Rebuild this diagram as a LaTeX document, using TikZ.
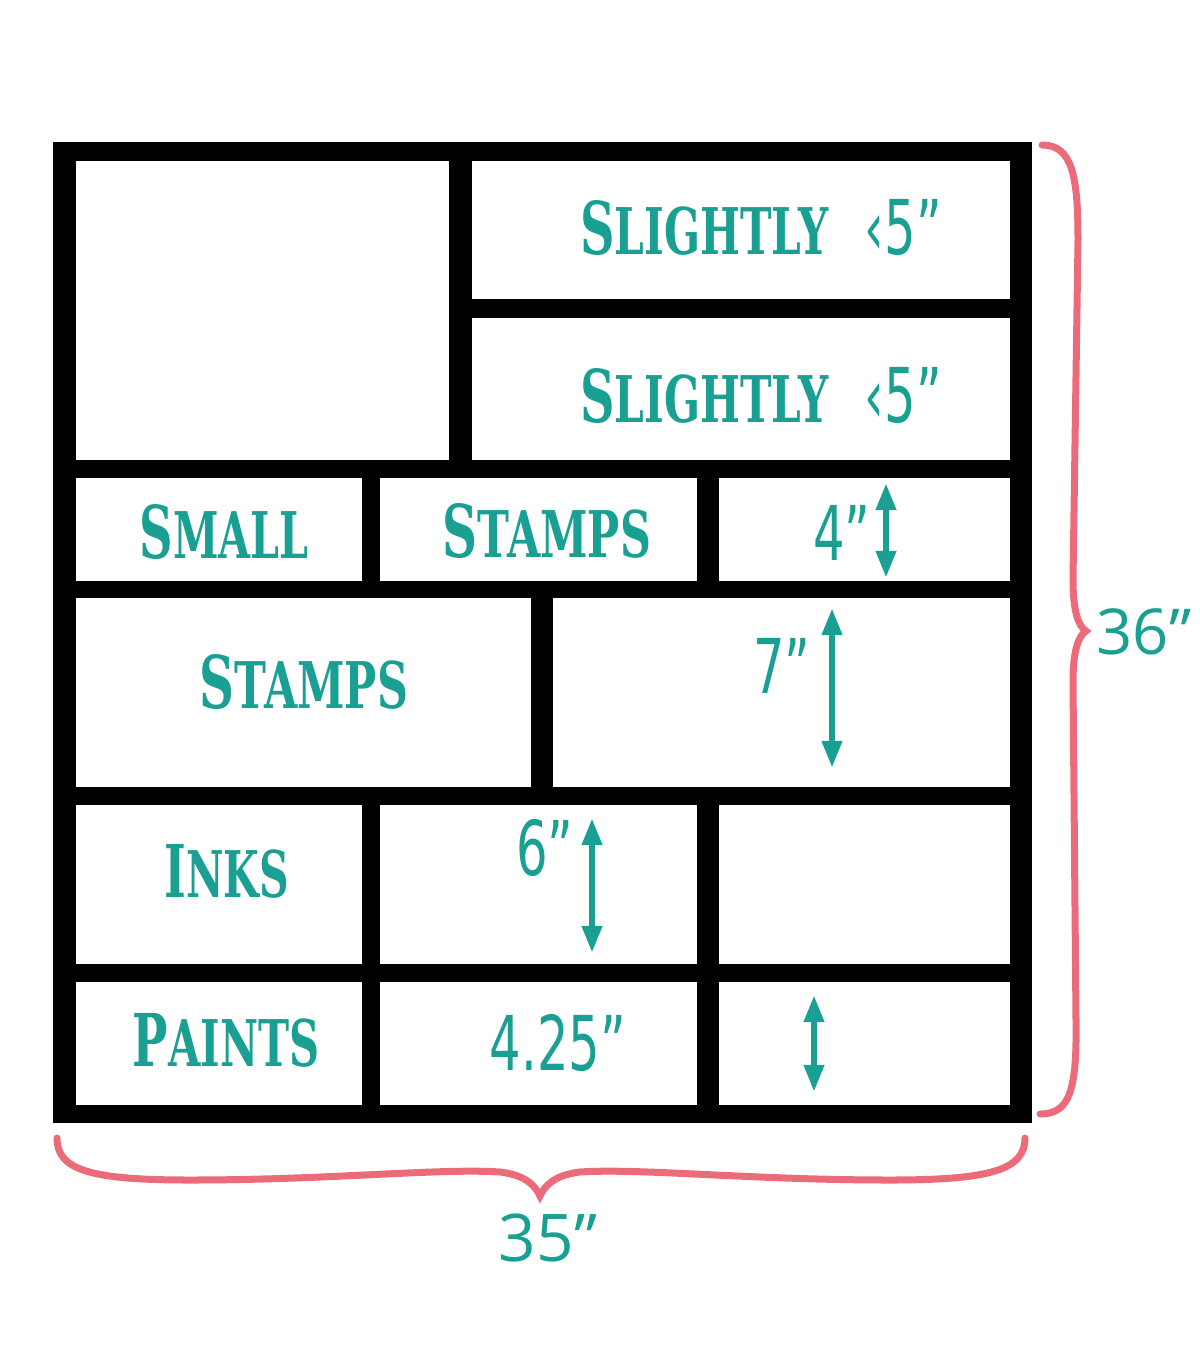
\documentclass[tikz,border=0pt]{standalone}
\usepackage{fontspec}
\usepackage{graphicx}
\usetikzlibrary{arrows.meta}

\newfontfamily\slabfont{DejaVu Serif Condensed}
\newfontfamily\numfont{DejaVu Sans Condensed}
\newfontfamily\roundfont{Open Sans}

\definecolor{teal1}{RGB}{26,160,146}
\definecolor{pink1}{RGB}{236,107,123}

% fake small caps in the slab face
\newcommand\smcaps[2]{{\slabfont\bfseries\fontsize{20.7}{22}\selectfont #1\fontsize{18.3}{22}\selectfont #2}}
\newcommand\dimnum[1]{{\numfont\fontsize{21.5}{22}\selectfont #1}}
\newcommand\sqz[2]{\scalebox{#1}[1]{#2}}

\tikzset{
    lbl/.style={text=teal1, inner sep=0pt, anchor=center},
    dimarrow/.style={draw=teal1, line width=0.065cm,
        {Triangle[length=0.27cm,width=0.19cm]}-{Triangle[length=0.27cm,width=0.19cm]}},
    brace/.style={draw=pink1, line width=0.07cm, line cap=round}
}

\begin{document}
\begin{tikzpicture}[x=0.01cm,y=-0.01cm]

\useasboundingbox (0,0) rectangle (1200,1348);

% frame and shelves
\fill[black] (53,142) rectangle (1032,1123);
\foreach \xa/\ya/\xb/\yb in {76/161/449/460, 472/161/1010/299, 472/318/1010/460,
    76/478/362/581, 380/478/697/581, 719/478/1010/581,
    76/598/531/787, 553/598/1010/787,
    76/805/362/964, 380/805/697/964, 719/805/1010/964,
    76/982/362/1105, 380/982/697/1105, 719/982/1010/1105}
    \fill[white] (\xa,\ya) rectangle (\xb,\yb);

% labels
\node[lbl] (slightA) at (761,227) {\sqz{0.73}{\smcaps{S}{LIGHTLY}\hspace{14pt}\dimnum{‹5”}}};
\node[lbl] (slightB) at (761,395) {\sqz{0.73}{\smcaps{S}{LIGHTLY}\hspace{14pt}\dimnum{‹5”}}};
\node[lbl] (small) at (224,532) {\sqz{0.71}{\smcaps{S}{MALL}}};
\node[lbl] (stampsA) at (547,531) {\sqz{0.74}{\smcaps{S}{TAMPS}}};
\node[lbl] (four) at (842,533) {\sqz{0.73}{\dimnum{4”}}};
\node[lbl] (stampsB) at (304,682) {\sqz{0.74}{\smcaps{S}{TAMPS}}};
\node[lbl] (seven) at (782,666) {\sqz{0.73}{\dimnum{7”}}};
\node[lbl] (inks) at (227,871) {\sqz{0.71}{\smcaps{I}{NKS}}};
\node[lbl] (six) at (545,848) {\sqz{0.73}{\dimnum{6”}}};
\node[lbl] (paints) at (226,1040) {\sqz{0.72}{\smcaps{P}{AINTS}}};
\node[lbl] (fourquarter) at (558,1043) {\sqz{0.73}{\dimnum{4.25”}}};

% height arrows
\coordinate (fourT) at (886,483);
\coordinate (fourB) at (886,578);
\coordinate (sevenT) at (832,608);
\coordinate (sevenB) at (832,768);
\coordinate (sixT) at (592,818);
\coordinate (sixB) at (592,953);
\coordinate (lastT) at (814,995);
\coordinate (lastB) at (814,1092);
\draw[dimarrow] (fourT) -- (fourB);
\draw[dimarrow] (sevenT) -- (sevenB);
\draw[dimarrow] (sixT) -- (sixB);
\draw[dimarrow] (lastT) -- (lastB);

% overall size braces
\draw[brace] (1042,145) .. controls (1072,145) and (1078,175) .. (1078,240)
    -- (1073,580) .. controls (1073,610) and (1078,626) .. (1086,631)
    .. controls (1078,636) and (1073,652) .. (1073,682)
    -- (1076,1020) .. controls (1077,1090) and (1070,1114) .. (1040,1114);
\draw[brace] (57,1138) .. controls (57,1170) and (90,1180) .. (190,1180)
    .. controls (330,1180) and (440,1168) .. (500,1172)
    .. controls (525,1175) and (535,1185) .. (540,1196)
    .. controls (545,1185) and (555,1175) .. (580,1172)
    .. controls (640,1168) and (750,1180) .. (890,1180)
    .. controls (990,1180) and (1025,1170) .. (1025,1138);

\node[lbl, font=\roundfont\fontsize{18}{20}\selectfont] (height) at (1144,632) {36”};
\node[lbl, font=\roundfont\fontsize{18.7}{20}\selectfont] (width) at (548,1238) {35”};

\end{tikzpicture}
\end{document}
